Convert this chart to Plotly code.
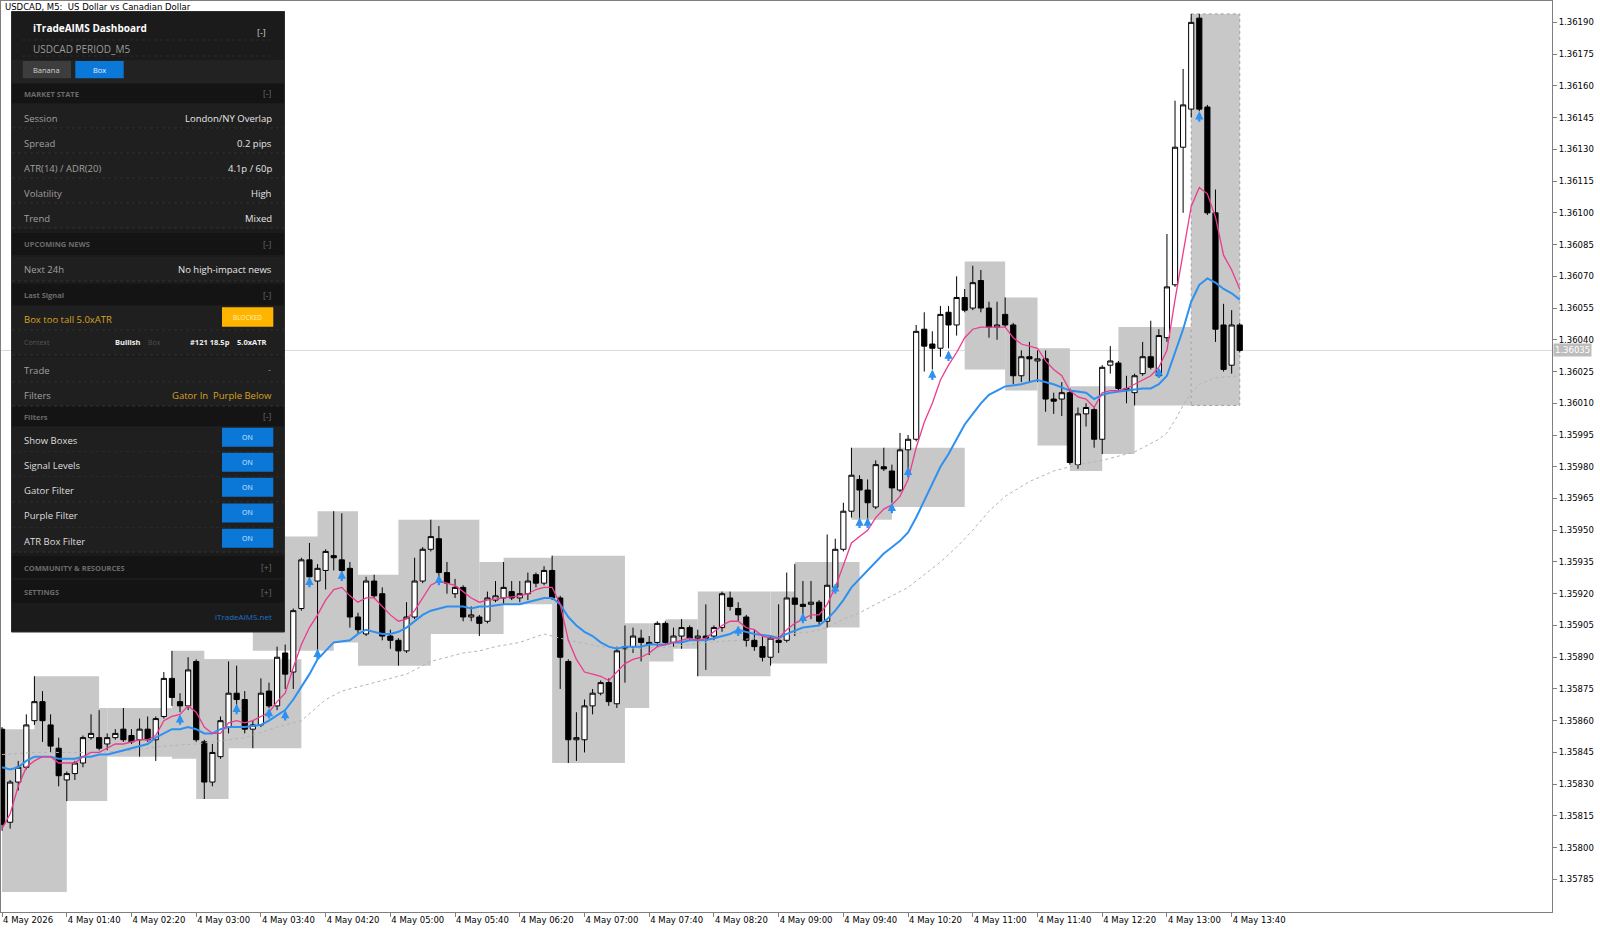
import plotly.graph_objects as go

# ---------------- chart data (USDCAD M5, 4 May 2026, bars from 01:00) ----------------
bar_open = [
 1.35856, 1.35812, 1.35831, 1.35838, 1.35860, 1.35869, 1.35858, 1.35847, 1.35832, 1.35835,
 1.35840, 1.35852, 1.35852, 1.35849, 1.35852, 1.35856, 1.35853, 1.35851, 1.35856, 1.35851,
 1.35862, 1.35880, 1.35869, 1.35867, 1.35888, 1.35850, 1.35831, 1.35843, 1.35857, 1.35873,
 1.35870, 1.35856, 1.35858, 1.35874, 1.35867, 1.35892, 1.35883, 1.35913, 1.35936, 1.35926,
 1.35931, 1.35938, 1.35936, 1.35932, 1.35909, 1.35901, 1.35926, 1.35920, 1.35900, 1.35898,
 1.35893, 1.35909, 1.35926, 1.35941, 1.35946, 1.35930, 1.35920, 1.35923, 1.35909, 1.35909,
 1.35907, 1.35917, 1.35918, 1.35921, 1.35918, 1.35920, 1.35929, 1.35925, 1.35931, 1.35918,
 1.35888, 1.35851, 1.35851, 1.35867, 1.35873, 1.35878, 1.35868, 1.35894, 1.35895, 1.35899,
 1.35896, 1.35897, 1.35906, 1.35897, 1.35900, 1.35904, 1.35899, 1.35900, 1.35900, 1.35904,
 1.35918, 1.35913, 1.35909, 1.35898, 1.35895, 1.35890, 1.35898, 1.35898, 1.35918, 1.35915,
 1.35915, 1.35916, 1.35907, 1.35923, 1.35941, 1.35959, 1.35974, 1.35969, 1.35961, 1.35980,
 1.35978, 1.35969, 1.35988, 1.35993, 1.36045, 1.36038, 1.36036, 1.36053, 1.36047, 1.36060,
 1.36055, 1.36068, 1.36055, 1.36046, 1.36052, 1.36047, 1.36023, 1.36032, 1.36030, 1.36031,
 1.36012, 1.36012, 1.36015, 1.35981, 1.36005, 1.36007, 1.35993, 1.36028, 1.36029, 1.36017,
 1.36015, 1.36024, 1.36032, 1.36023, 1.36041, 1.36066, 1.36131, 1.36149, 1.36192, 1.36150,
 1.36100, 1.36047, 1.36028, 1.36047]
bar_high = [
 1.35857, 1.35832, 1.35841, 1.35863, 1.35881, 1.35874, 1.35863, 1.35852, 1.35836, 1.35841,
 1.35853, 1.35863, 1.35865, 1.35854, 1.35856, 1.35866, 1.35856, 1.35861, 1.35862, 1.35862,
 1.35883, 1.35893, 1.35873, 1.35890, 1.35889, 1.35851, 1.35849, 1.35862, 1.35888, 1.35886,
 1.35874, 1.35860, 1.35880, 1.35878, 1.35895, 1.35896, 1.35913, 1.35937, 1.35944, 1.35934,
 1.35941, 1.35959, 1.35958, 1.35935, 1.35911, 1.35928, 1.35929, 1.35923, 1.35903, 1.35899,
 1.35916, 1.35937, 1.35942, 1.35955, 1.35952, 1.35935, 1.35927, 1.35924, 1.35914, 1.35910,
 1.35921, 1.35926, 1.35935, 1.35926, 1.35926, 1.35930, 1.35930, 1.35933, 1.35938, 1.35919,
 1.35889, 1.35864, 1.35870, 1.35875, 1.35879, 1.35880, 1.35895, 1.35905, 1.35904, 1.35903,
 1.35900, 1.35907, 1.35907, 1.35904, 1.35908, 1.35905, 1.35903, 1.35915, 1.35905, 1.35921,
 1.35921, 1.35916, 1.35910, 1.35903, 1.35900, 1.35900, 1.35915, 1.35930, 1.35934, 1.35926,
 1.35926, 1.35917, 1.35948, 1.35946, 1.35963, 1.35989, 1.35976, 1.35974, 1.35983, 1.35989,
 1.35981, 1.35996, 1.35995, 1.36047, 1.36053, 1.36044, 1.36056, 1.36056, 1.36070, 1.36064,
 1.36075, 1.36073, 1.36058, 1.36058, 1.36060, 1.36048, 1.36035, 1.36039, 1.36035, 1.36035,
 1.36015, 1.36020, 1.36017, 1.36008, 1.36010, 1.36008, 1.36028, 1.36037, 1.36030, 1.36023,
 1.36024, 1.36039, 1.36049, 1.36045, 1.36090, 1.36153, 1.36168, 1.36194, 1.36194, 1.36151,
 1.36111, 1.36057, 1.36054, 1.36048]
bar_low = [
 1.35808, 1.35809, 1.35827, 1.35837, 1.35858, 1.35850, 1.35845, 1.35829, 1.35822, 1.35832,
 1.35838, 1.35851, 1.35846, 1.35846, 1.35851, 1.35850, 1.35849, 1.35843, 1.35850, 1.35841,
 1.35861, 1.35867, 1.35864, 1.35865, 1.35850, 1.35823, 1.35829, 1.35842, 1.35854, 1.35867,
 1.35854, 1.35847, 1.35857, 1.35866, 1.35865, 1.35875, 1.35875, 1.35912, 1.35927, 1.35893,
 1.35922, 1.35931, 1.35930, 1.35904, 1.35901, 1.35900, 1.35918, 1.35898, 1.35894, 1.35886,
 1.35892, 1.35908, 1.35925, 1.35940, 1.35927, 1.35920, 1.35918, 1.35907, 1.35907, 1.35900,
 1.35906, 1.35916, 1.35915, 1.35917, 1.35916, 1.35917, 1.35923, 1.35924, 1.35917, 1.35875,
 1.35840, 1.35841, 1.35845, 1.35863, 1.35872, 1.35867, 1.35866, 1.35878, 1.35892, 1.35888,
 1.35891, 1.35895, 1.35896, 1.35895, 1.35894, 1.35898, 1.35881, 1.35884, 1.35898, 1.35902,
 1.35912, 1.35907, 1.35895, 1.35893, 1.35888, 1.35886, 1.35892, 1.35897, 1.35900, 1.35907,
 1.35908, 1.35905, 1.35904, 1.35922, 1.35940, 1.35956, 1.35955, 1.35955, 1.35960, 1.35978,
 1.35963, 1.35968, 1.35975, 1.35992, 1.36025, 1.36026, 1.36032, 1.36036, 1.36042, 1.36053,
 1.36054, 1.36053, 1.36041, 1.36040, 1.36046, 1.36019, 1.36020, 1.36020, 1.36020, 1.36006,
 1.36005, 1.36004, 1.35981, 1.35979, 1.35999, 1.35989, 1.35986, 1.36024, 1.36016, 1.36010,
 1.36009, 1.36023, 1.36026, 1.36022, 1.36039, 1.36065, 1.36100, 1.36145, 1.36148, 1.36099,
 1.36039, 1.36025, 1.36024, 1.36034]
bar_close = [
 1.35811, 1.35831, 1.35838, 1.35858, 1.35869, 1.35860, 1.35848, 1.35834, 1.35835, 1.35840,
 1.35852, 1.35854, 1.35847, 1.35852, 1.35854, 1.35851, 1.35850, 1.35856, 1.35851, 1.35861,
 1.35880, 1.35871, 1.35867, 1.35884, 1.35851, 1.35831, 1.35845, 1.35860, 1.35873, 1.35870,
 1.35856, 1.35858, 1.35873, 1.35867, 1.35890, 1.35882, 1.35912, 1.35936, 1.35928, 1.35932,
 1.35940, 1.35937, 1.35931, 1.35909, 1.35903, 1.35926, 1.35919, 1.35900, 1.35898, 1.35893,
 1.35909, 1.35926, 1.35941, 1.35947, 1.35930, 1.35925, 1.35923, 1.35909, 1.35910, 1.35906,
 1.35918, 1.35919, 1.35923, 1.35918, 1.35920, 1.35926, 1.35925, 1.35931, 1.35918, 1.35890,
 1.35851, 1.35852, 1.35867, 1.35873, 1.35878, 1.35869, 1.35893, 1.35895, 1.35900, 1.35897,
 1.35897, 1.35906, 1.35897, 1.35900, 1.35904, 1.35899, 1.35900, 1.35899, 1.35904, 1.35920,
 1.35914, 1.35910, 1.35898, 1.35895, 1.35890, 1.35899, 1.35897, 1.35918, 1.35915, 1.35914,
 1.35916, 1.35907, 1.35924, 1.35941, 1.35959, 1.35976, 1.35969, 1.35963, 1.35981, 1.35979,
 1.35970, 1.35988, 1.35993, 1.36044, 1.36037, 1.36036, 1.36052, 1.36047, 1.36060, 1.36054,
 1.36067, 1.36055, 1.36046, 1.36047, 1.36047, 1.36023, 1.36032, 1.36031, 1.36031, 1.36012,
 1.36011, 1.36015, 1.35982, 1.36005, 1.36008, 1.35993, 1.36027, 1.36030, 1.36017, 1.36016,
 1.36023, 1.36032, 1.36027, 1.36042, 1.36065, 1.36131, 1.36151, 1.36190, 1.36149, 1.36100,
 1.36045, 1.36026, 1.36047, 1.36035]
bars = list(range(len(bar_open)))
last_price = 1.36035

# fast (pink) moving average, read at bar positions
fast_bar = [0,1,2,3,4,5,6,7,8,9,10,11,12,13,14,15,16,17,18,19,20,21,22,23,24,25,26,27,28,29,
            30,31,32,33,34,35,36,37,38,39,40,41,42,43,44,45,46,47,48,49,50,51,52,53,54,55,56,57,58,59,
            60,62,64,65,66,67,68,69,70,71,72,73,74,75,76,77,78,79,80,81,82,83,84,85,86,87,88,89,
            90,91,92,93,94,95,96,97,98,99,100,101,102,103,104,105,106,107,108,109,110,111,112,113,114,115,
            116,117,118,119,120,121,124,125,126,127,128,129,130,131,132,133,134,135,136,137,138,139,140,
            141,142,143,144,145,146,147,148,149,150,151,152,153]
fast_ma = [1.35809,1.35816,1.35829,1.35838,1.35841,1.35843,1.35843,1.35840,1.35840,1.35840,
           1.35843,1.35845,1.35845,1.35847,1.35849,1.35849,1.35850,1.35851,1.35851,1.35853,
           1.35860,1.35862,1.35863,1.35867,1.35864,1.35857,1.35854,1.35854,1.35859,1.35860,
           1.35859,1.35860,1.35862,1.35864,1.35869,1.35873,1.35885,1.35896,1.35904,1.35910,
           1.35917,1.35922,1.35923,1.35919,1.35916,1.35918,1.35918,1.35914,1.35910,1.35907,
           1.35908,1.35912,1.35918,1.35924,1.35926,1.35925,1.35924,1.35921,1.35918,1.35916,
           1.35917,1.35918,1.35919,1.35920,1.35922,1.35923,1.35923,1.35915,1.35898,1.35889,
           1.35883,1.35882,1.35881,1.35879,1.35883,1.35887,1.35889,1.35890,1.35892,1.35895,
           1.35896,1.35897,1.35898,1.35899,1.35898,1.35899,1.35902,1.35905,
           1.35907,1.35907,1.35904,1.35903,1.35900,1.35899,1.35899,1.35903,1.35906,1.35908,
           1.35910,1.35910,1.35915,1.35923,1.35934,1.35944,1.35947,1.35950,1.35956,1.35960,
           1.35962,1.35966,1.35974,1.35989,1.36001,1.36010,1.36021,1.36028,1.36034,1.36041,
           1.36045,1.36046,1.36046,1.36041,1.36038,1.36037,1.36036,1.36030,1.36026,1.36023,
           1.36016,1.36013,1.36012,1.36008,1.36015,1.36016,1.36016,1.36017,1.36019,1.36021,
           1.36023,1.36027,1.36035,1.36059,1.36081,1.36103,1.36112,1.36109,1.36098,1.36080,
           1.36073,1.36064]

# medium (blue) moving average
mid_bar = [0,1,2,3,4,5,6,7,8,9,10,11,12,13,14,15,16,17,18,19,20,21,22,23,24,25,26,27,28,29,30,
           32,33,35,36,37,38,39,40,41,43,44,45,46,47,48,49,50,51,52,53,54,55,56,57,58,59,60,62,
           64,65,66,67,68,69,70,71,72,73,74,75,76,77,78,79,80,81,82,83,84,85,86,87,88,89,90,91,
           93,95,96,97,99,101,102,103,104,105,106,107,108,109,110,111,112,113,114,115,116,117,118,
           119,120,121,122,124,126,128,130,132,134,135,136,137,139,141,142,143,144,145,146,147,148,
           149,150,151,152,153]
mid_ma = [1.35838,1.35837,1.35838,1.35841,1.35843,1.35843,1.35843,1.35842,1.35842,1.35842,
          1.35843,1.35843,1.35844,1.35844,1.35845,1.35846,1.35847,1.35848,1.35849,1.35852,
          1.35854,1.35856,1.35856,1.35857,1.35856,1.35854,1.35854,1.35856,1.35857,1.35857,1.35857,
          1.35858,1.35860,1.35865,1.35870,1.35876,1.35882,1.35889,1.35893,1.35897,1.35898,
          1.35901,1.35903,1.35902,1.35901,1.35901,1.35902,1.35904,1.35907,1.35910,1.35912,
          1.35913,1.35914,1.35914,1.35914,1.35913,1.35914,1.35914,1.35915,
          1.35915,1.35916,1.35917,1.35918,1.35918,1.35915,1.35909,1.35905,1.35902,1.35900,
          1.35897,1.35895,1.35894,1.35895,1.35895,1.35895,1.35896,1.35896,1.35896,1.35897,
          1.35897,1.35898,1.35898,1.35898,1.35899,1.35900,1.35901,1.35903,
          1.35901,1.35900,1.35899,1.35901,1.35904,1.35905,1.35908,1.35912,1.35917,1.35923,
          1.35927,1.35931,1.35935,1.35939,1.35942,1.35945,1.35949,1.35956,1.35964,1.35972,
          1.35980,1.35986,1.35993,1.36000,1.36005,1.36010,1.36014,1.36018,1.36019,1.36021,
          1.36019,1.36016,1.36015,1.36012,1.36014,1.36015,1.36016,1.36017,1.36017,1.36019,
          1.36023,1.36034,1.36045,1.36058,1.36066,1.36069,1.36067,1.36064,1.36062,1.36059]

# slow (grey dotted) moving average
slow_bar = [0,4,8,12,16,20,24,28,30,34,37,40,42,46,48,50,51,53,55,57,59,61,64,67,70,74,78,83,87,
            91,95,100,102,104,106,108,110,112,114,116,118,120,122,124,127,130,133,136,140,143,
            144,145,146,147,148,150,153]
slow_ma = [1.35844,1.35845,1.35845,1.35845,1.35846,1.35848,1.35849,1.35851,1.35852,1.35857,
           1.35860,1.35870,1.35874,1.35878,1.35880,1.35882,1.35884,1.35888,1.35890,1.35892,
           1.35893,1.35895,1.35897,1.35901,1.35898,1.35895,1.35894,1.35895,1.35897,
           1.35898,1.35900,1.35902,1.35904,1.35908,1.35911,1.35915,1.35919,1.35923,1.35929,
           1.35935,1.35942,1.35950,1.35959,1.35966,1.35973,1.35978,1.35981,1.35983,1.35987,
           1.35993,1.35996,1.36002,1.36009,1.36015,1.36019,1.36022,1.36023]

# signal arrows (bar, price at arrow tip)
signal_bar = [22, 29, 33, 35, 38, 39, 42, 54, 91, 99, 103, 106, 107, 110, 112, 115, 117, 143, 148]
signal_price = [1.35863, 1.35868, 1.35866, 1.35865, 1.35928, 1.35894, 1.35931, 1.35929, 1.35905,
                1.35911, 1.35925, 1.35956, 1.35956, 1.35963, 1.35980, 1.36026, 1.36035, 1.36027,
                1.36148]

# signal boxes (start bar, end bar, top price, bottom price)
box_start = [0, 4, 8, 13, 21, 24, 25, 31, 39, 44, 49, 59, 62, 68, 76, 80, 82, 86, 95, 98,
             105, 110, 119, 124, 128, 132, 136, 138, 147]
box_end = [8, 12, 13, 21, 25, 28, 37, 41, 44, 53, 59, 62, 68, 77, 80, 83, 86, 95, 102, 106,
           110, 119, 124, 128, 132, 136, 140, 147, 153]
box_top = [1.35856, 1.35881, 1.35866, 1.35866, 1.35893, 1.35889, 1.35889, 1.35947, 1.35959,
           1.35929, 1.35955, 1.35935, 1.35937, 1.35938, 1.35906, 1.35906, 1.35908, 1.35921,
           1.35921, 1.35935, 1.35989, 1.35989, 1.36077, 1.36060, 1.36036, 1.36018, 1.36018,
           1.36046, 1.36194]
box_bottom = [1.35779, 1.35822, 1.35822, 1.35843, 1.35842, 1.35823, 1.35847, 1.35893, 1.35897,
              1.35886, 1.35901, 1.35901, 1.35915, 1.35840, 1.35866, 1.35888, 1.35894, 1.35881,
              1.35887, 1.35904, 1.35955, 1.35961, 1.36026, 1.36016, 1.35990, 1.35978, 1.35986,
              1.36009, 1.36009]

tick_bars = [0, 8, 16, 24, 32, 40, 48, 56, 64, 72, 80, 88, 96, 104, 112, 120, 128, 136, 144, 152]
tick_text = ["4 May 2026", "4 May 01:40", "4 May 02:20", "4 May 03:00", "4 May 03:40",
             "4 May 04:20", "4 May 05:00", "4 May 05:40", "4 May 06:20", "4 May 07:00",
             "4 May 07:40", "4 May 08:20", "4 May 09:00", "4 May 09:40", "4 May 10:20",
             "4 May 11:00", "4 May 11:40", "4 May 12:20", "4 May 13:00", "4 May 13:40"]
price_ticks = [1.35785, 1.35800, 1.35815, 1.35830, 1.35845, 1.35860, 1.35875, 1.35890, 1.35905,
               1.35920, 1.35935, 1.35950, 1.35965, 1.35980, 1.35995, 1.36010, 1.36025, 1.36040,
               1.36055, 1.36070, 1.36085, 1.36100, 1.36115, 1.36130, 1.36145, 1.36160, 1.36175,
               1.36190]

# ---------------- figure geometry ----------------
W, H = 1600, 929
ML, MR, MT, MB = 1, 48, 1, 17
PW, PH = W - ML - MR, H - MT - MB


def px(x):
    return (x - ML) / PW


def py(y):
    return 1 - (y - MT) / PH


AX_FONT = dict(family="DejaVu Sans", size=8.5, color="#000000")
PANEL_FONT = "Open Sans"

fig = go.Figure()

# boxes
for k, (b0, b1, top, bot) in enumerate(zip(box_start, box_end, box_top, box_bottom)):
    last = (k == len(box_start) - 1)
    fig.add_shape(type="rect", xref="x", yref="y", x0=b0, x1=b1, y0=bot, y1=top,
                  fillcolor="#c8c8c8",
                  line=dict(width=1 if last else 0, color="#a0a0a0" if last else "#c8c8c8",
                            dash="dot"),
                  layer="below")

# bid line
fig.add_shape(type="line", xref="paper", yref="y", x0=0, x1=1, y0=last_price, y1=last_price,
              line=dict(color="#d9d9d9", width=1), layer="below")

fig.add_trace(go.Candlestick(
    x=bars, open=bar_open, high=bar_high, low=bar_low, close=bar_close,
    increasing=dict(fillcolor="#ffffff", line=dict(color="#000000", width=1)),
    decreasing=dict(fillcolor="#000000", line=dict(color="#000000", width=1)),
    whiskerwidth=0, hoverinfo="skip", showlegend=False))

fig.add_trace(go.Scatter(x=slow_bar, y=slow_ma, mode="lines",
                         line=dict(color="#b4b4b4", width=1, dash="dot"),
                         hoverinfo="skip", showlegend=False))
fig.add_trace(go.Scatter(x=mid_bar, y=mid_ma, mode="lines",
                         line=dict(color="#2e90f0", width=2),
                         hoverinfo="skip", showlegend=False))
fig.add_trace(go.Scatter(x=fast_bar, y=fast_ma, mode="lines",
                         line=dict(color="#ec3b8f", width=1.3),
                         hoverinfo="skip", showlegend=False))

for b, p in zip(signal_bar, signal_price):
    fig.add_annotation(x=b, y=p, xref="x", yref="y", text="", showarrow=True,
                       arrowhead=2, arrowsize=0.75, arrowwidth=2.2, arrowcolor="#2e90f0",
                       ax=0, ay=12, standoff=0)

# current price label
fig.add_annotation(xref="paper", yref="y", x=px(1553), y=last_price, text="1.36035",
                   showarrow=False, xanchor="left", yanchor="middle",
                   bgcolor="#bdbdbd", borderpad=1,
                   font=dict(family="DejaVu Sans", size=8.5, color="#ffffff"))

# chart caption
fig.add_annotation(xref="paper", yref="paper", x=px(3), y=py(7.5),
                   text="USDCAD, M5:&nbsp; US Dollar vs Canadian Dollar", showarrow=False,
                   xanchor="left", yanchor="middle",
                   font=dict(family="DejaVu Sans", size=8.5, color="#000000"))


# ---------------- dashboard panel ----------------
def prect(x0, y0, x1, y1, fill, line_color=None):
    fig.add_shape(type="rect", xref="paper", yref="paper",
                  x0=px(x0), x1=px(x1), y0=py(y1), y1=py(y0), fillcolor=fill,
                  line=dict(width=1 if line_color else 0, color=line_color or fill),
                  layer="above")


def pline(x0, y0, x1, y1, color, dash="dot"):
    fig.add_shape(type="line", xref="paper", yref="paper",
                  x0=px(x0), x1=px(x1), y0=py(y0), y1=py(y1),
                  line=dict(color=color, width=1, dash=dash), layer="above")


def ptext(x, y, s, size=9.5, color="#a5a5a5", anchor="left", bold=False):
    fig.add_annotation(xref="paper", yref="paper", x=px(x), y=py(y),
                       text=("<b>%s</b>" % s) if bold else s, showarrow=False,
                       xanchor=anchor, yanchor="middle", borderpad=0,
                       font=dict(family=PANEL_FONT, size=size, color=color))


prect(11.5, 11.5, 284.5, 632, "#1b1b1b", "#2d2d2d")
pline(22, 40, 274, 40, "#2a2a2a")
pline(22, 56, 274, 56, "#2a2a2a")
prect(12, 60, 284, 83, "#222222")
prect(22.7, 61, 71, 78.3, "#3d3d3d")
prect(75.3, 61, 123.7, 78.3, "#0b78d7")

ptext(32.3, 28.3, "iTradeAIMS Dashboard", 10, "#ffffff", bold=True)
ptext(266.5, 32.7, "[-]", 9, "#cfcfcf", anchor="right")
ptext(32.3, 49.3, "USDCAD PERIOD_M5", 10, "#9a9a9a")
ptext(46.9, 69.7, "Banana", 7.5, "#d2d2d2", anchor="center")
ptext(99.5, 69.7, "Box", 7.5, "#e6f0ff", anchor="center")

sections = [(84, 103, "MARKET STATE", "[-]"), (233, 255, "UPCOMING NEWS", "[-]"),
            (284, 305, "Last Signal", "[-]"), (406, 426, "Filters", "[-]"),
            (556, 578, "COMMUNITY &amp; RESOURCES", "[+]"), (580, 603, "SETTINGS", "[+]")]
for y0, y1, label, sign in sections:
    prect(12, y0, 284, y1, "#141414")
    ptext(22.7, (y0 + y1) / 2 + 0.5, label, 7.5, "#6b6b6b", bold=True)
    ptext(273, (y0 + y1) / 2 + 0.5, sign, 8.5, "#6b6b6b", anchor="right")

rows = [(104, 128), (129, 153), (154, 178), (179, 203), (204, 228), (257, 281),
        (306, 330), (331, 355), (357, 382), (383, 406),
        (427, 452), (452, 477), (477, 502), (503, 528), (528, 552)]
for y0, y1 in rows:
    prect(12, y0, 284, y1, "#1f1f1f")
    pline(12, y1, 284, y1, "#333333")

info_rows = [(118.3, "Session", "London/NY Overlap"), (143.7, "Spread", "0.2 pips"),
             (168.3, "ATR(14) / ADR(20)", "4.1p / 60p"), (193.7, "Volatility", "High"),
             (218.7, "Trend", "Mixed"), (269.3, "Next 24h", "No high-impact news")]
for y, lab, val in info_rows:
    ptext(22.7, y, lab, 9.5, "#9f9f9f")
    ptext(273.3, y, val, 9.5, "#e6e6e6", anchor="right")

ORANGE = "#d7a21f"
ptext(22.7, 319.3, "Box too tall 5.0xATR", 9.5, ORANGE)
prect(222, 307.3, 273.3, 326.7, "#ffb400")
ptext(247.7, 317, "BLOCKED", 6.5, "#fff0b8", anchor="center")

ptext(22.7, 342.3, "Context", 7, "#555555")
ptext(142.3, 342.3, "Bullish", 7.5, "#f0f0f0", anchor="right", bold=True)
ptext(147, 342.3, "Box", 7, "#505050")
ptext(231, 342.3, "#121 18.5p", 7.5, "#f0f0f0", anchor="right", bold=True)
ptext(267.7, 342.3, "5.0xATR", 7.5, "#f0f0f0", anchor="right", bold=True)

ptext(22.7, 370, "Trade", 9.5, "#9f9f9f")
ptext(272, 369, "-", 9, "#8a8a8a", anchor="right")
ptext(22.7, 395.3, "Filters", 9.5, "#9f9f9f")
ptext(208.5, 395.3, "Gator In", 9.5, ORANGE, anchor="right")
ptext(273.3, 395.3, "Purple Below", 9.5, ORANGE, anchor="right")

toggles = [(440, "Show Boxes"), (465, "Signal Levels"), (490, "Gator Filter"),
           (515.7, "Purple Filter"), (541, "ATR Box Filter")]
for y, lab in toggles:
    ptext(22.7, y, lab, 9.5, "#dedede")
    prect(222, y - 12.3, 273.3, y + 6.7, "#0b78d7")
    ptext(247.7, y - 3, "ON", 7, "#d7e8ff", anchor="center")

ptext(273.3, 616.7, "iTradeAIMS.net", 8, "#1f72cc", anchor="right")

# ---------------- layout ----------------
fig.update_layout(
    width=W, height=H,
    margin=dict(l=ML, r=MR, t=MT, b=MB, pad=0),
    paper_bgcolor="#ffffff", plot_bgcolor="#ffffff",
    showlegend=False, hovermode=False,
    boxgap=0.2, boxgroupgap=0.2,
    xaxis=dict(range=[-0.13, 191.6], tickmode="array", tickvals=tick_bars, ticktext=tick_text,
               ticks="outside", ticklen=4, tickcolor="#7f7f7f", tickfont=AX_FONT,
               ticklabelposition="outside right",
               showline=True, linecolor="#7f7f7f", linewidth=1, mirror=True,
               showgrid=False, zeroline=False, rangeslider=dict(visible=False), fixedrange=True),
    yaxis=dict(range=[1.357696, 1.362001], side="right", tickmode="array", tickvals=price_ticks,
               tickformat=".5f", ticks="outside", ticklen=4, tickcolor="#7f7f7f",
               tickfont=AX_FONT, showline=True, linecolor="#7f7f7f", linewidth=1, mirror=True,
               showgrid=False, zeroline=False, fixedrange=True),
)

fig.write_html("out.html")
